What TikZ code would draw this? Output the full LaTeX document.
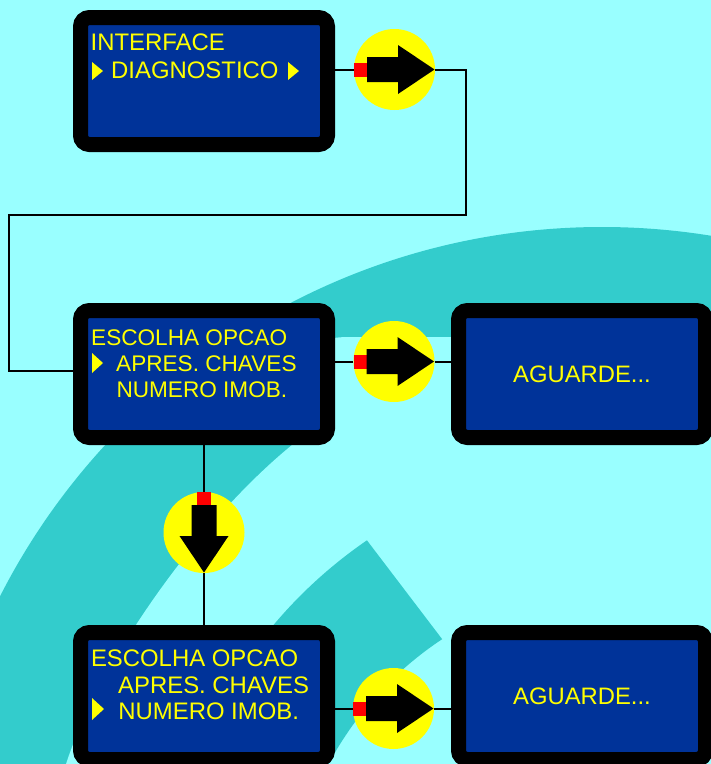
\documentclass[tikz,border=0pt]{standalone}
\usepackage{fontspec}
\setmainfont{Liberation Sans}
\usetikzlibrary{calc}
\definecolor{bgc}{HTML}{99FFFF}
\definecolor{tealc}{HTML}{33CCCC}
\definecolor{lcdc}{HTML}{003399}
\definecolor{yelc}{HTML}{FFFF00}
\definecolor{redc}{HTML}{FF0000}
\newcommand\flowarrow{%
  \fill[redc] (-40.5,-7) rectangle (-27.5,7);
  \fill[black] (-27.5,-12.5) -- (3.5,-12.5) -- (3.5,-24.5) -- (40,0) -- (3.5,24.5) -- (3.5,12.5) -- (-27.5,12.5) -- cycle;}
\begin{document}
\begin{tikzpicture}[x=1pt,y=-1pt,
  lcdbox/.style={draw=black, line width=15pt, fill=lcdc, rounded corners=9pt,
    minimum width=247pt, minimum height=127pt, inner sep=0pt, text=yelc,
    font=\fontsize{23.8pt}{28pt}\selectfont},
  disc/.style={circle, fill=yelc, minimum size=81pt, inner sep=0pt},
  conn/.style={draw=black, line width=2pt},
  lcdline/.style={text=yelc, anchor=base west, inner sep=0pt},
  bigtxt/.style={font=\fontsize{23.9pt}{28pt}\selectfont},
  midtxt/.style={font=\fontsize{22.6pt}{26pt}\selectfont},
  yelmark/.style={fill=yelc}]
\useasboundingbox (0,0) rectangle (711,764);
\clip (0,0) rectangle (711,764);
% background
\fill[bgc] (0,0) rectangle (711,764);
% big teal band
\fill[tealc] (602,902) circle[radius=675];
\fill[bgc] (66,764) .. controls (100,660) and (200,520) .. (292,445)
  -- (325,345) .. controls (330,338) .. (345,337) -- (711,337) -- (711,764) -- cycle;
% small teal band
\fill[tealc] ($(632,926)+(235.5:468)$) arc[start angle=235.5, end angle=110, radius=468]
  -- ($(632,926)+(110:344)$) arc[start angle=110, end angle=236.5, radius=344] -- cycle;
% boxes
\node[lcdbox] (b1) at (204,81) {};
\node[lcdbox] (b2) at (204,374) {};
\node[lcdbox] (b3) at (204,696) {};
\node[lcdbox] (b4) at (582,374) {AGUARDE...};
\node[lcdbox] (b5) at (582,696) {AGUARDE...};
% discs
\node[disc] (c1) at (394.5,69.5) {};
\node[disc] (c2) at (394,361.5) {};
\node[disc] (c3) at (204,532.5) {};
\node[disc] (c4) at (393.5,708.5) {};
% connectors
\coordinate (k1) at (466,215);
\coordinate (k2) at (9,371);
\draw[conn] (c1.west) -- (c1.west -| b1.east);
\draw[conn] (c1.east) -| (k1) -| (k2) -- (k2 -| b2.west);
\draw[conn] (c2.west) -- (c2.west -| b2.east);
\draw[conn] (c2.east) -- (c2.east -| b4.west);
\draw[conn] (b2.south) -- (c3.north);
\draw[conn] (c3.south) -- (b3.north);
\draw[conn] (c4.west) -- (c4.west -| b3.east);
\draw[conn] (c4.east) -- (c4.east -| b5.west);
% arrows in discs
\begin{scope}[shift={(c1.center)}] \flowarrow \end{scope}
\begin{scope}[shift={(c2.center)}] \flowarrow \end{scope}
\begin{scope}[shift={(c4.center)}] \flowarrow \end{scope}
\begin{scope}[shift={(c3.center)}, x={(0pt,-1pt)}, y={(1pt,0pt)}] \flowarrow \end{scope}
% box 1 text
\node[lcdline, bigtxt] (t11) at (90.5,50) {INTERFACE};
\node[lcdline, bigtxt] (t12) at (111,78.3) {DIAGNOSTICO};
\fill[yelmark] (92,62) -- (103,71) -- (92,80) -- cycle;
\fill[yelmark] (288,62) -- (299,71) -- (288,80) -- cycle;
% box 2 text
\node[lcdline, midtxt] (t21) at (91,345) {ESCOLHA OPCAO};
\node[lcdline, midtxt] (t22) at (116,371) {APRES. CHAVES};
\node[lcdline, midtxt] (t23) at (116.3,397) {NUMERO IMOB.};
\fill[yelmark] (92,353) -- (103,363) -- (92,373) -- cycle;
% box 3 text
\node[lcdline, bigtxt] (t31) at (90.8,666.5) {ESCOLHA OPCAO};
\node[lcdline, bigtxt] (t32) at (118,693) {APRES. CHAVES};
\node[lcdline, bigtxt] (t33) at (118.2,719.5) {NUMERO IMOB.};
\fill[yelmark] (92,698) -- (104,709) -- (92,720) -- cycle;
\end{tikzpicture}
\end{document}
